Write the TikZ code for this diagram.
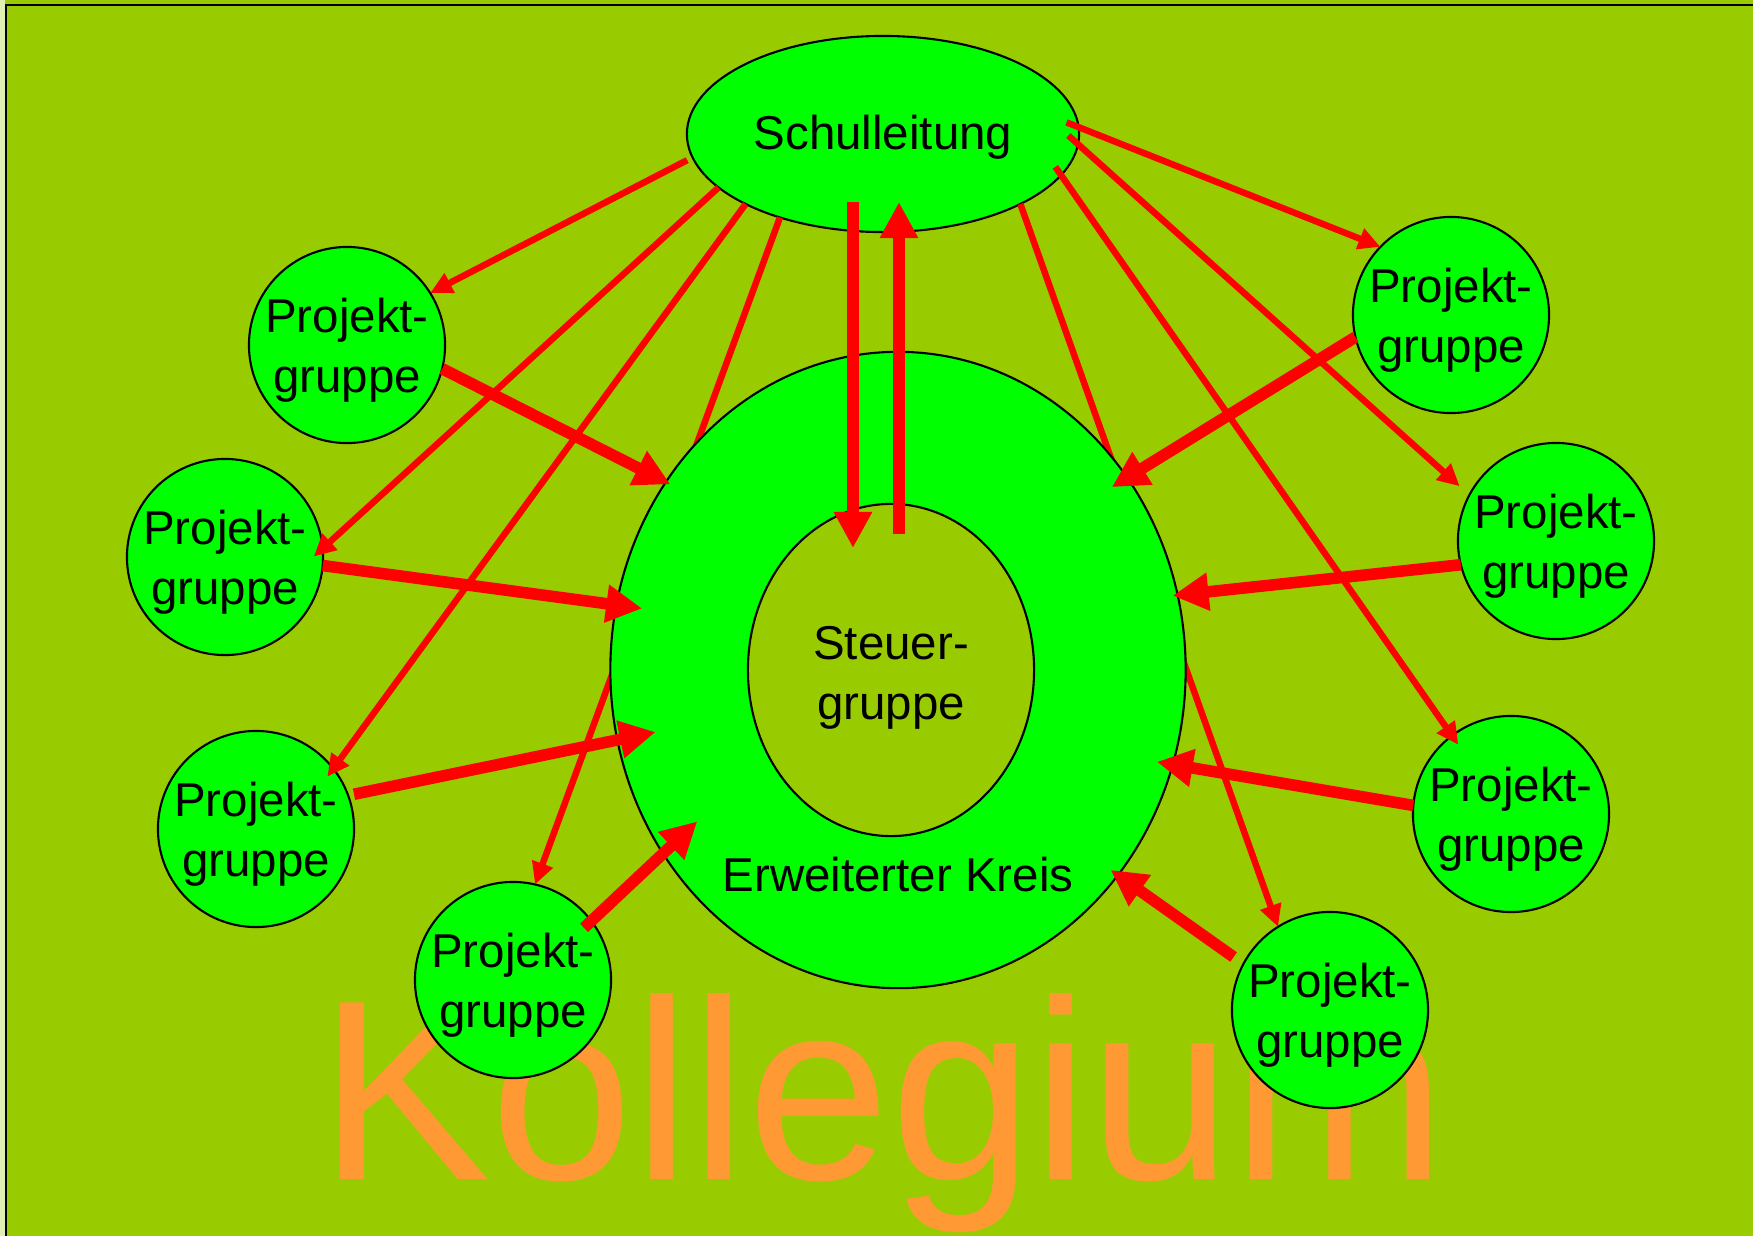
\documentclass[tikz,border=0pt]{standalone}
\usepackage{fontspec}
\setmainfont{Liberation Sans}
\usetikzlibrary{shapes.geometric}
\usetikzlibrary{arrows.meta}
\definecolor{kollegium-green}{RGB}{153, 204, 0}
\definecolor{rand-hell}{RGB}{224, 240, 176}
\definecolor{kreis-green}{RGB}{0, 255, 0}
\definecolor{pfeil-red}{RGB}{255, 0, 0}
\definecolor{kollegium-orange}{RGB}{255, 153, 51}
\newcommand{\tiefer}[2]{\raisebox{-#1}[\height][\depth]{#2}}
\newcommand{\pgtext}{\tiefer{1.55pt}{Projekt-}\\\tiefer{1.55pt}{gruppe}}

\begin{document}
\begin{tikzpicture}[x=0.01cm, y=-0.01cm,
    every node/.style={font=\fontsize{13.5}{17}\selectfont, inner sep=0pt, outer sep=0pt, align=center},
    gruppe/.style={circle, draw=black, line width=0.6pt, fill=kreis-green, minimum size=1.96cm},
    kreis/.style={ellipse, draw=black, line width=0.6pt, fill=kreis-green},
    duenn/.style={draw=pfeil-red, line width=1.85pt, -{Triangle[length=0.22cm, width=0.21cm]}},
    dick/.style={draw=pfeil-red, line width=3.3pt, -{Triangle[length=0.36cm, width=0.36cm]}}]
\useasboundingbox (0,0) rectangle (1753,1236);
\fill[kollegium-green] (0,0) rectangle (1753,1236);
\fill[rand-hell] (0,0) rectangle (5,1236);
\draw[line width=0.7pt] (6,1236) -- (6,5) -- (1753,5);

\node[text=kollegium-orange, font=\fontsize{73}{73}\selectfont, anchor=base] (kollegium) at (883,1179) {Kollegium};

\node[kreis, minimum width=3.92cm, minimum height=1.96cm] (sl) at (883,134) {\tiefer{1.05pt}{Schulleitung}};
\node[gruppe] (pg1) at (347,345) {\pgtext};
\node[gruppe] (pg2) at (225,557) {\pgtext};
\node[gruppe] (pg3) at (256,829) {\pgtext};
\node[gruppe] (pg4) at (513,980) {\pgtext};
\node[gruppe] (pg5) at (1451,315) {\pgtext};
\node[gruppe] (pg6) at (1556,541) {\pgtext};
\node[gruppe] (pg7) at (1511,814) {\pgtext};
\node[gruppe] (pg8) at (1330,1010) {\pgtext};

% these two run under the big ring
\draw[duenn] (sl.219) -- (pg4.77);
\draw[duenn] (sl.333) -- (pg8.122);

\node[kreis, minimum width=5.75cm, minimum height=6.36cm] (ek) at (898,670) {};
\node[kreis, fill=kollegium-green, minimum width=2.86cm, minimum height=3.32cm] (sg) at (891,670) {\tiefer{2.2pt}{Steuer-}\\\tiefer{2.2pt}{gruppe}};
\node[anchor=base] (ek-text) at (898,891) {Erweiterter Kreis};

\draw[duenn, shorten <=0.06cm] (sl.187) -- (pg1.32);
\draw[duenn, shorten >=-0.12cm] (sl.198) -- (pg2.5);
\draw[duenn, shorten >=-0.10cm] (sl.207) -- (pg3.38);
\draw[duenn, shorten <=-0.13cm] (sl.2) -- (pg5.136);
\draw[duenn, shorten <=-0.13cm, shorten >=0.13cm] (sl.357) -- (pg6.152);
\draw[duenn, shorten <=-0.10cm, shorten >=-0.11cm] (sl.347) -- (pg7.127);

\draw[dick, shorten >=-0.05cm] (pg1.346) -- (ek.141);
\draw[dick, shorten >=-0.26cm] (pg2.355) -- (ek.167);
\draw[dick, shorten <=0.06cm, shorten >=-0.39cm] (pg3.20) -- (ek.194);
\draw[dick, shorten <=-0.10cm, shorten >=-0.47cm] (pg4.37) -- (ek.218);
\draw[dick, shorten >=-0.18cm] (pg5.193) -- (ek.40);
\draw[dick, shorten >=-0.05cm] (pg6.194) -- (ek.15);
\draw[dick, shorten >=-0.16cm] (pg7.175) -- (ek.341);
\draw[dick, shorten <=0.12cm, shorten >=-0.09cm] (pg8.152) -- (ek.317);

\draw[dick] ([xshift=-0.30cm, yshift=0.30cm]sl.south) -- ([xshift=-0.38cm, yshift=-0.44cm]sg.north);
\draw[dick] ([xshift=0.08cm, yshift=-0.30cm]sg.north) -- ([xshift=0.16cm, yshift=0.30cm]sl.south);
\end{tikzpicture}
\end{document}
